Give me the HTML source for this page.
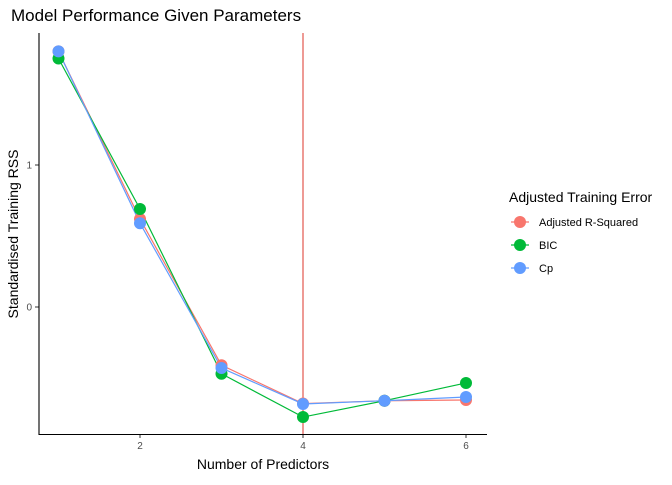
<!DOCTYPE html>
<html><head><meta charset="utf-8"><style>
body{margin:0;background:#fff;font-family:"Liberation Sans",sans-serif;}
svg text{font-family:"Liberation Sans",sans-serif;}
</style></head><body>
<svg id="chart" width="672" height="480" xmlns="http://www.w3.org/2000/svg">
<text x="11" y="21" font-size="17" fill="#000">Model Performance Given Parameters</text>
<g id="plot"></g>
<line x1="39" y1="33" x2="39" y2="435" stroke="#000" stroke-width="1.1"/>
<line x1="39" y1="434.5" x2="487" y2="434.5" stroke="#000" stroke-width="1.1"/>
<text x="263" y="469" font-size="14" text-anchor="middle">Number of Predictors</text>
<text transform="translate(18,234) rotate(-90)" font-size="14" text-anchor="middle">Standardised Training RSS</text>
<text x="509" y="202" font-size="14">Adjusted Training Error</text>
<g id="legend"></g>
</svg>
<script>
const predictors=[1,2,3,4,5,6];
const adjR2=[1.80,0.62,-0.41,-0.68,-0.66,-0.655];
const bic=[1.75,0.69,-0.47,-0.775,-0.66,-0.535];
const cp=[1.80,0.59,-0.43,-0.683,-0.66,-0.634];
const xTicks=[2,4,6];
const yTicks=[0,1];
const seriesNames=["Adjusted R-Squared","BIC","Cp"];
const bestN=4;
const colors=["#F8766D","#00BA38","#619CFF"];
const NS="http://www.w3.org/2000/svg";
const xs=v=>58.5+(v-1)*81.5;
const ys=v=>307-v*142;
const plot=document.getElementById('plot');
function mk(tag,attrs,parent){const e=document.createElementNS(NS,tag);for(const k in attrs)e.setAttribute(k,attrs[k]);parent.appendChild(e);return e;}
xTicks.forEach(t=>{
 const l=mk('line',{x1:xs(t),x2:xs(t),y1:434,y2:438,stroke:'#333'},plot);
 
 
 const tx=mk('text',{x:xs(t),y:449,'font-size':10,fill:'#4d4d4d','text-anchor':'middle'},plot);tx.textContent=t;
 
 
});
yTicks.forEach(t=>{
 const l=mk('line',{x1:35,x2:39,y1:ys(t),y2:ys(t),stroke:'#333'},plot);
 
 
 const tx=mk('text',{x:32,y:ys(t)+3.5,'font-size':10,fill:'#4d4d4d','text-anchor':'end'},plot);tx.textContent=t;
 
 
});
const vl=mk('line',{x1:xs(bestN),x2:xs(bestN),y1:33,y2:434,stroke:'#E0483E','stroke-width':1.1},plot);


[adjR2,bic,cp].forEach((s,i)=>{
 const p=mk('polyline',{points:s.map((v,j)=>xs(predictors[j])+','+ys(v)).join(' '),fill:'none',stroke:colors[i],'stroke-width':1.2},plot);
 
 
});
[adjR2,bic,cp].forEach((s,i)=>{
 s.forEach((v,j)=>{
  const c=mk('circle',{cx:xs(predictors[j]),cy:ys(v),r:6,fill:colors[i]},plot);
  
  
 });
});
const lg=document.getElementById('legend');
seriesNames.forEach((n,i)=>{
 const y=222+i*23;
 const g=mk('g',{},lg);
 
 
 mk('line',{x1:511,x2:529,y1:y,y2:y,stroke:colors[i],'stroke-width':1.2},g);
 mk('circle',{cx:520,cy:y,r:6,fill:colors[i]},g);
 const t=mk('text',{x:539,y:y+4,'font-size':11},g);t.textContent=n;
});
</script>
</body></html>
